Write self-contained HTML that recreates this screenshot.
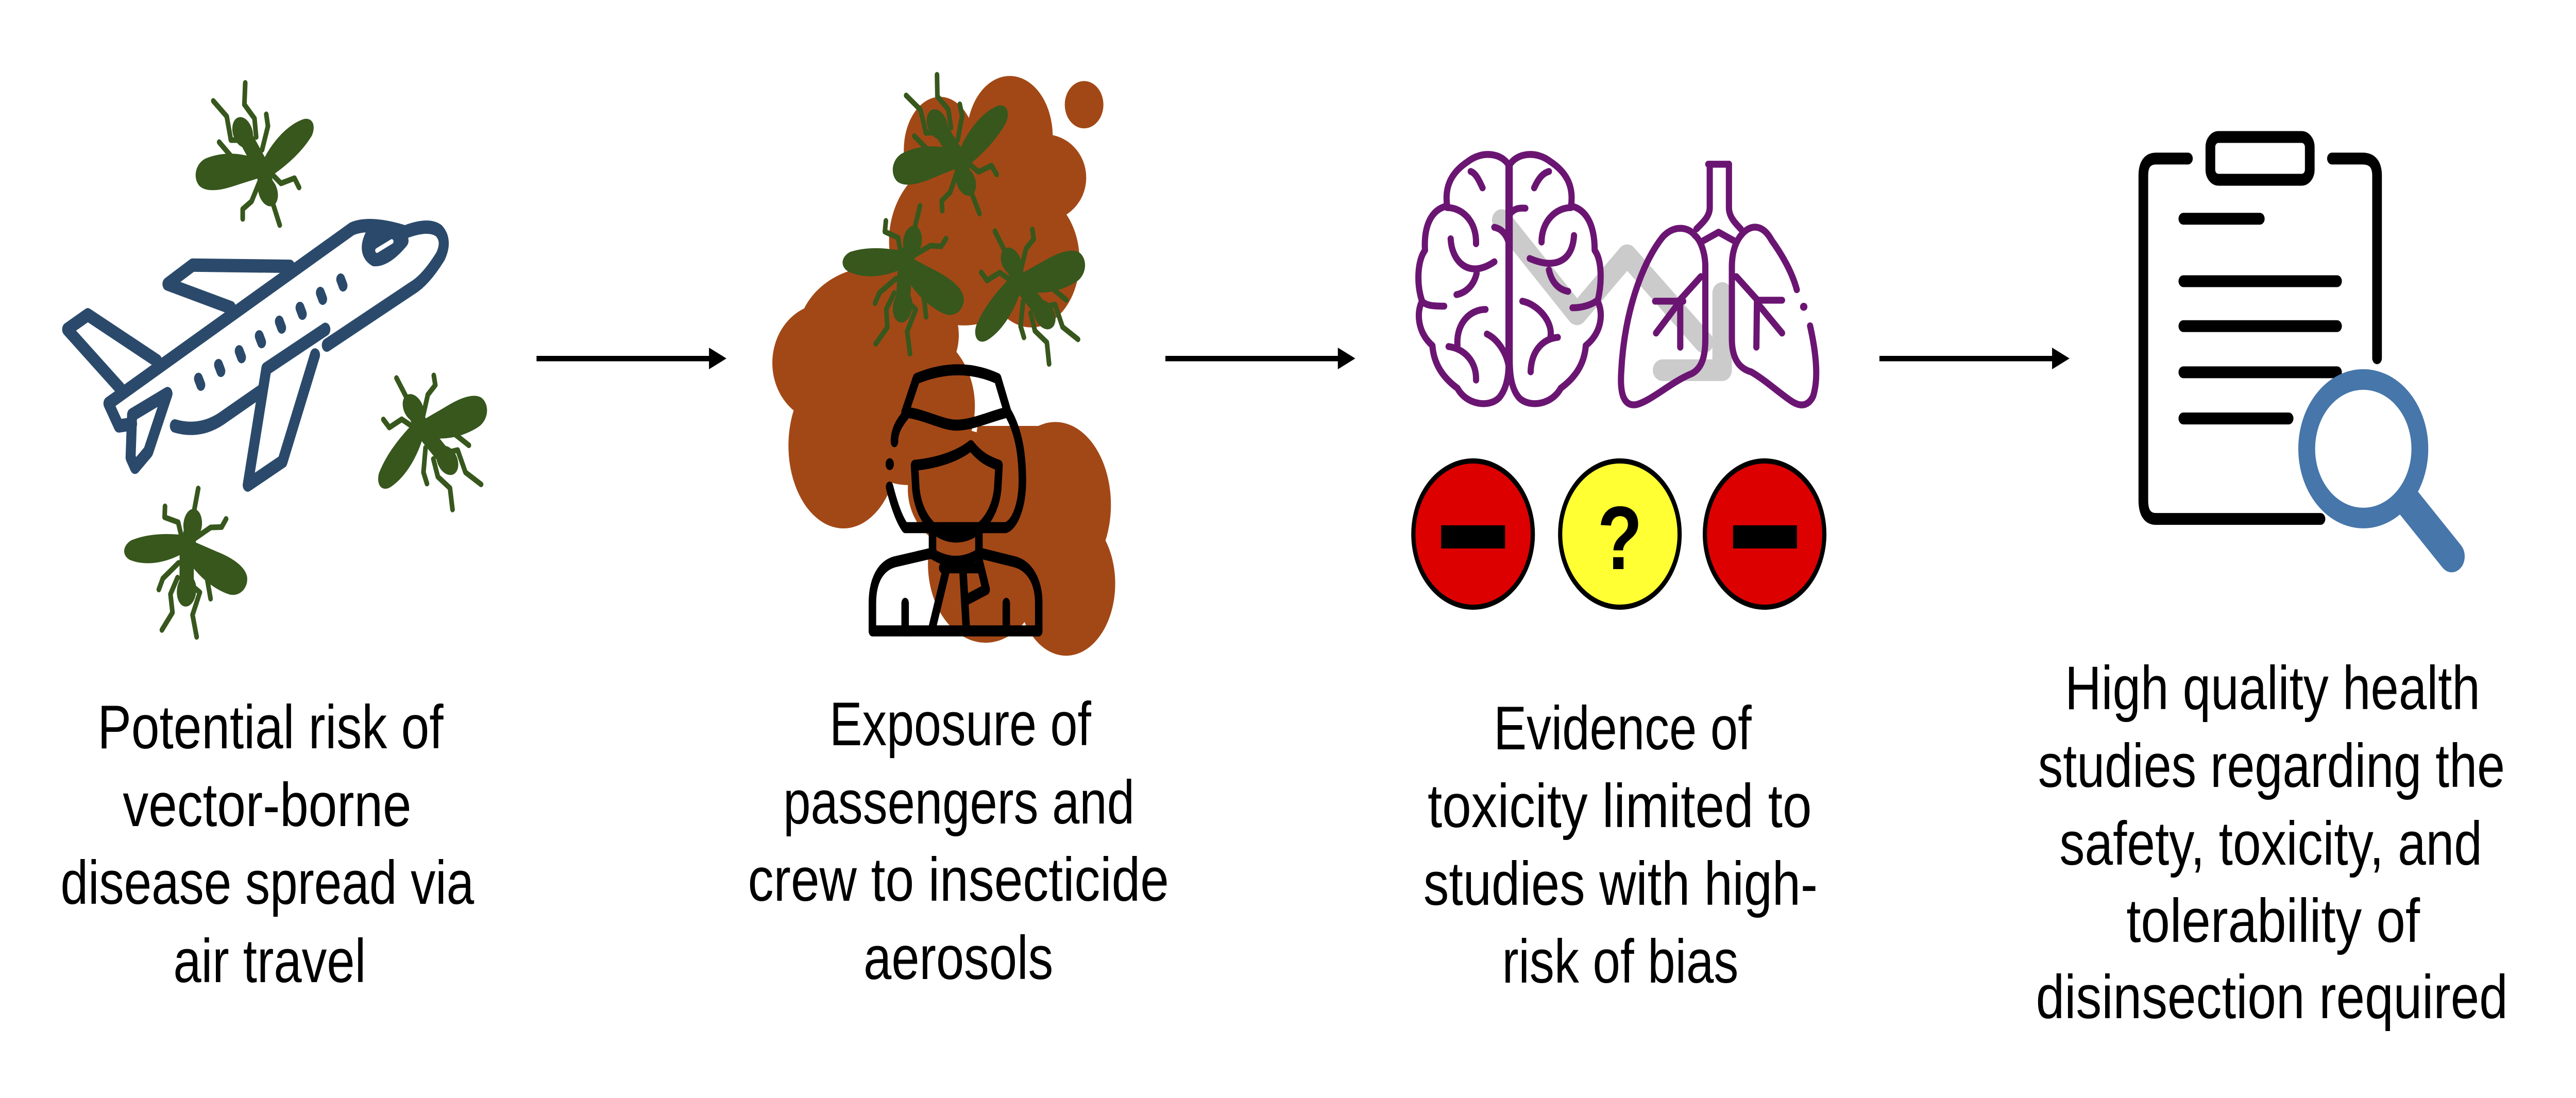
<!DOCTYPE html>
<html><head><meta charset="utf-8"><style>
html,body{margin:0;padding:0;background:#fff;width:100%;height:100%;overflow:hidden}
svg{display:block;position:absolute;left:0;top:0;width:100vw;height:100vh}
text{font-family:"Liberation Sans",sans-serif;font-size:120px;fill:#000}
</style></head><body>
<svg xmlns="http://www.w3.org/2000/svg" viewBox="0 0 6124 2132" preserveAspectRatio="none">
<defs>
<g id="m">
<g fill="none" stroke="#37571D" stroke-width="11" stroke-linejoin="round" stroke-linecap="round">
<path d="M-116,-130 L-84,-100 L-74,-54 L-50,-54"/>
<path d="M-40,-165 L-42,-123 L-18,-96 L-14,-60"/>
<path d="M10,-104 L14,-81 L0,-35"/>
<path d="M-102,-50 L-74,-23 L-39,-8 L-10,-5"/>
<path d="M-5,25 L-25,65 L-46,80 L-46,99"/>
<path d="M15,5 L45,30 L77,20 L88,38"/>
<path d="M21,57 L42,111"/>
</g>
<g fill="#37571D">
<path d="M-46,-69 L0,0 L14,46" fill="none" stroke="#37571D" stroke-width="34" stroke-linecap="round"/>
<ellipse cx="-46" cy="-69" rx="23" ry="31" transform="rotate(-26 -46 -69)"/>
<ellipse cx="14" cy="46" rx="22" ry="30" transform="rotate(-26 14 46)"/>
<path d="M-8,5 C15,-45 60,-85 100,-95 C122,-98 128,-80 118,-62 C90,-25 50,0 15,20 Z"/>
<path d="M5,-10 C-40,-32 -95,-32 -135,-18 C-158,-8 -165,18 -150,34 C-135,48 -100,44 -70,36 C-40,28 -15,22 10,15 Z"/>
</g>
</g>
</defs>
<rect width="6124" height="2132" fill="#fff"/>

<!-- plane -->
<g transform="translate(100,100) scale(0.7015,0.7653)" fill="none" stroke="#2B4A6B" stroke-width="34" stroke-linejoin="round" stroke-linecap="round">
<path d="M240,885 L1050,450 Q1110,430 1230,458 Q1310,435 1345,455 Q1375,480 1350,520 Q1300,580 1255,600 L965,745"/>
<path d="M240,885 L225,893 L260,950 L305,945"/>
<path d="M305,922 L425,868 L360,1015 L315,1055 L300,1030 Z"/>
<path d="M450,950 Q540,970 620,925 L745,860"/>
<path d="M960,705 L760,805 L697,1100 L815,1040 L925,770"/>
<path d="M840,545 L510,542 L425,590 L640,650"/>
<path d="M390,785 L155,668 L85,705 L265,855"/>
<path d="M1110,470 Q1085,510 1125,528 Q1170,530 1225,480 Z" fill="#2B4A6B"/>
<path d="M1135,505 L1185,482" stroke="#fff" stroke-width="12"/>
<g stroke-width="30"><path d="M1012,578 l8,16"/><path d="M943,612 l8,16"/><path d="M874,650 l8,16"/><path d="M804,685 l8,16"/><path d="M736,722 l8,16"/><path d="M668,760 l8,16"/><path d="M598,795 l8,16"/><path d="M530,830 l8,16"/></g>
</g>
<use href="#m" transform="translate(623,326)"/>
<use href="#m" transform="translate(444,1064) rotate(-146)"/>
<use href="#m" transform="translate(1005,835) rotate(169)"/>

<!-- arrows -->
<g fill="#000">
<rect x="1275.5" y="691" width="415" height="10.5"/><path d="M1685.5,675 L1727,696 L1685.5,717 Z"/>
<rect x="2770.5" y="691" width="415" height="10.5"/><path d="M3180.5,675 L3222,696 L3180.5,717 Z"/>
<rect x="4468" y="691" width="415" height="10.5"/><path d="M4878.5,675 L4920,696 L4878.5,717 Z"/>
</g>

<!-- cloud -->
<g transform="translate(1750,100) scale(0.6378,0.7653)" fill="#A24816">
<ellipse cx="1020" cy="215" rx="160" ry="153"/>
<ellipse cx="760" cy="250" rx="135" ry="135"/>
<ellipse cx="1150" cy="320" rx="155" ry="110"/>
<ellipse cx="1100" cy="530" rx="180" ry="170"/>
<ellipse cx="850" cy="480" rx="280" ry="215"/>
<ellipse cx="1297" cy="135" rx="72" ry="60"/>
<ellipse cx="330" cy="790" rx="195" ry="150"/>
<ellipse cx="530" cy="720" rx="300" ry="175"/>
<ellipse cx="400" cy="1000" rx="205" ry="210"/>
<ellipse cx="640" cy="900" rx="250" ry="200"/>
<ellipse cx="1190" cy="1150" rx="207" ry="210"/>
<ellipse cx="1230" cy="1350" rx="183" ry="183"/>
<ellipse cx="930" cy="1300" rx="215" ry="200"/>
<ellipse cx="840" cy="1110" rx="200" ry="150"/>
<path d="M900,950 L1150,950 L1150,1400 L800,1400 Z"/>
<path d="M640,1120 L585,1135 L640,1190 Z" fill="#fff"/>
</g>
<use href="#m" transform="translate(2279,307) rotate(-4)"/>
<use href="#m" transform="translate(2152,513) rotate(-142)"/>
<use href="#m" transform="translate(2426,551) rotate(170)"/>
<!-- crew -->
<g transform="translate(1750,100) scale(0.6378,0.7653)" fill="none" stroke="#000" stroke-width="28" stroke-linejoin="round" stroke-linecap="round">
<path d="M630,915 L672,830 Q830,785 975,830 L1012,915"/>
<path d="M630,915 C700,920 770,948 820,948 C880,948 950,925 1012,915"/>
<path d="M1012,915 C1060,970 1067,1040 1067,1090 C1067,1150 1040,1200 1005,1208 L630,1208 C605,1185 585,1140 572,1105"/>
<path d="M590,990 C590,960 610,940 640,915"/>
<path d="M572,1047 h1" stroke-width="30"/>
<path d="M665,1050 C740,1045 820,1030 875,1000 C910,1030 940,1040 980,1050 L975,1110 C965,1180 900,1232 820,1232 C740,1232 680,1180 670,1110 Z"/>
<path d="M732,1215 L732,1275 Q820,1312 905,1275 L905,1215"/>
<path d="M508,1470 L508,1400 C508,1340 540,1305 590,1295 L735,1272"/>
<path d="M905,1272 L1040,1295 C1090,1305 1128,1340 1128,1400 L1128,1470"/>
<path d="M508,1470 H1128"/>
<path d="M630,1400 V1470"/><path d="M1007,1400 V1470"/>
<path d="M785,1310 L730,1465"/><path d="M845,1310 L858,1465"/>
<path d="M905,1290 L932,1365 L862,1390"/>
<path d="M770,1310 H905"/>
</g>

<!-- brain & lungs -->
<g transform="translate(3300,250) scale(0.7015,0.6378)">
<g fill="none" stroke="#CBCBCB" stroke-width="66" stroke-linejoin="round" stroke-linecap="round">
<path d="M385,278 L640,565 L810,385 L1070,650"/>
<path d="M1132,500 L1132,735 L930,735"/>
</g>
<g fill="none" stroke="#6B1572" stroke-width="21" stroke-linejoin="round" stroke-linecap="round">
<path d="M408,110 C385,75 320,65 270,100 C220,130 190,170 200,235 C150,245 120,290 125,370 C100,400 95,470 115,525 C95,560 100,620 150,660 C155,720 190,760 235,790 C265,840 340,850 375,820 C405,790 410,740 408,700 Z"/>
<path d="M412,110 C435,75 500,65 550,100 C600,130 630,170 620,235 C670,245 700,290 700,370 C725,400 725,470 710,525 C730,560 725,620 670,660 C665,720 630,760 585,790 C555,840 480,850 445,820 C415,790 412,740 412,700 Z"/>
<path d="M320,180 C305,150 295,135 280,130"/>
<path d="M200,240 C250,240 300,280 298,350"/>
<path d="M212,335 C215,400 270,460 360,405"/>
<path d="M300,440 C290,480 260,500 232,505"/>
<path d="M115,525 C130,540 160,540 190,540"/>
<path d="M330,550 C280,550 230,590 235,660"/>
<path d="M205,663 C260,670 300,710 298,765"/>
<path d="M335,625 C370,640 400,680 408,720"/>
<path d="M360,300 C385,305 400,320 408,345"/>
<path d="M412,260 C425,245 440,240 465,242"/>
<path d="M495,180 C510,150 525,135 545,130"/>
<path d="M620,240 C570,240 520,280 520,345"/>
<path d="M630,325 C625,400 570,430 480,395"/>
<path d="M545,430 C555,470 580,490 610,495"/>
<path d="M625,545 C660,545 690,535 705,525"/>
<path d="M455,525 C510,535 560,590 550,635"/>
<path d="M575,635 C520,640 485,680 483,740"/>
<path d="M1085,108 H1155"/>
<path d="M1090,108 L1090,240 C1090,270 1060,290 1045,305"/>
<path d="M1155,108 L1155,240 C1155,270 1180,290 1195,305"/>
<path d="M1060,345 L1120,315 L1180,345"/>
<path d="M1040,325 C1020,300 970,290 930,330 C860,410 800,560 790,740 C785,810 800,845 840,840 C890,830 960,770 1030,745 C1060,730 1075,700 1075,640 L1075,420 C1075,380 1060,340 1040,325 Z"/>
<path d="M1200,320 C1230,290 1270,290 1300,340 C1340,390 1370,440 1385,490"/>
<path d="M1430,600 C1450,680 1460,760 1440,815 C1420,850 1390,845 1360,825 C1320,800 1270,760 1230,740 C1190,730 1165,700 1165,640 L1165,420 C1165,370 1180,340 1200,320"/>
<path d="M1408,542 h1" stroke-width="24"/>
<path d="M1060,450 L990,520 L990,665"/><path d="M905,525 L1000,525"/><path d="M985,530 L908,622"/>
<path d="M1180,450 L1250,520 L1248,665"/><path d="M1250,522 H1335"/><path d="M1255,535 L1335,622"/>
</g>
</g>

<!-- badges -->
<g stroke="#000" stroke-width="10">
<circle cx="3502" cy="1037" r="142" fill="#DC0000"/>
<circle cx="3851" cy="1037" r="142" fill="#FFFF33"/>
<circle cx="4195" cy="1037" r="142" fill="#DC0000"/>
</g>
<rect x="3426" y="1020" width="152" height="45" fill="#000"/>
<rect x="4120" y="1020" width="152" height="45" fill="#000"/>
<text x="3851" y="1105" text-anchor="middle" style="font-size:175px;font-weight:bold">?</text>

<!-- clipboard -->
<g transform="translate(4950,220) scale(0.6059)">
<g fill="none" stroke="#000" stroke-width="38" stroke-linecap="round" stroke-linejoin="round">
<rect x="503" y="76" width="390" height="137" rx="32"/>
<path d="M415,145 H290 Q240,145 240,200 V1240 Q240,1300 290,1300 H935"/>
<path d="M980,145 H1100 Q1157,145 1157,200 V785"/>
<path d="M397,338 H697"/><path d="M397,538 H1000"/><path d="M397,682 H1000"/><path d="M397,830 H1000"/><path d="M397,978 H810"/>
</g>
<circle cx="1103" cy="1075" r="222" fill="#fff" stroke="#4676AA" stroke-width="66"/>
<path d="M1285,1252 L1450,1420" stroke="#4676AA" stroke-width="102" stroke-linecap="round" fill="none"/>
</g>

<!-- labels -->
<text x="232" y="1453" textLength="822" lengthAdjust="spacingAndGlyphs">Potential risk of</text>
<text x="292" y="1604" textLength="686" lengthAdjust="spacingAndGlyphs">vector-borne</text>
<text x="144" y="1755" textLength="983" lengthAdjust="spacingAndGlyphs">disease spread via</text>
<text x="412" y="1907" textLength="458" lengthAdjust="spacingAndGlyphs">air travel</text>

<text x="1972" y="1447" textLength="622" lengthAdjust="spacingAndGlyphs">Exposure of</text>
<text x="1862" y="1599" textLength="835" lengthAdjust="spacingAndGlyphs">passengers and</text>
<text x="1778" y="1749" textLength="1001" lengthAdjust="spacingAndGlyphs">crew to insecticide</text>
<text x="2053" y="1901" textLength="451" lengthAdjust="spacingAndGlyphs">aerosols</text>

<text x="3551" y="1455" textLength="613" lengthAdjust="spacingAndGlyphs">Evidence of</text>
<text x="3394" y="1606" textLength="913" lengthAdjust="spacingAndGlyphs">toxicity limited to</text>
<text x="3384" y="1757" textLength="937" lengthAdjust="spacingAndGlyphs">studies with high-</text>
<text x="3571" y="1908" textLength="562" lengthAdjust="spacingAndGlyphs">risk of bias</text>

<text x="4909" y="1377" textLength="987" lengthAdjust="spacingAndGlyphs">High quality health</text>
<text x="4845" y="1528" textLength="1110" lengthAdjust="spacingAndGlyphs">studies regarding the</text>
<text x="4896" y="1679" textLength="1005" lengthAdjust="spacingAndGlyphs">safety, toxicity, and</text>
<text x="5055" y="1829" textLength="698" lengthAdjust="spacingAndGlyphs">tolerability of</text>
<text x="4840" y="1977" textLength="1122" lengthAdjust="spacingAndGlyphs">disinsection required</text>
</svg>
</body></html>
